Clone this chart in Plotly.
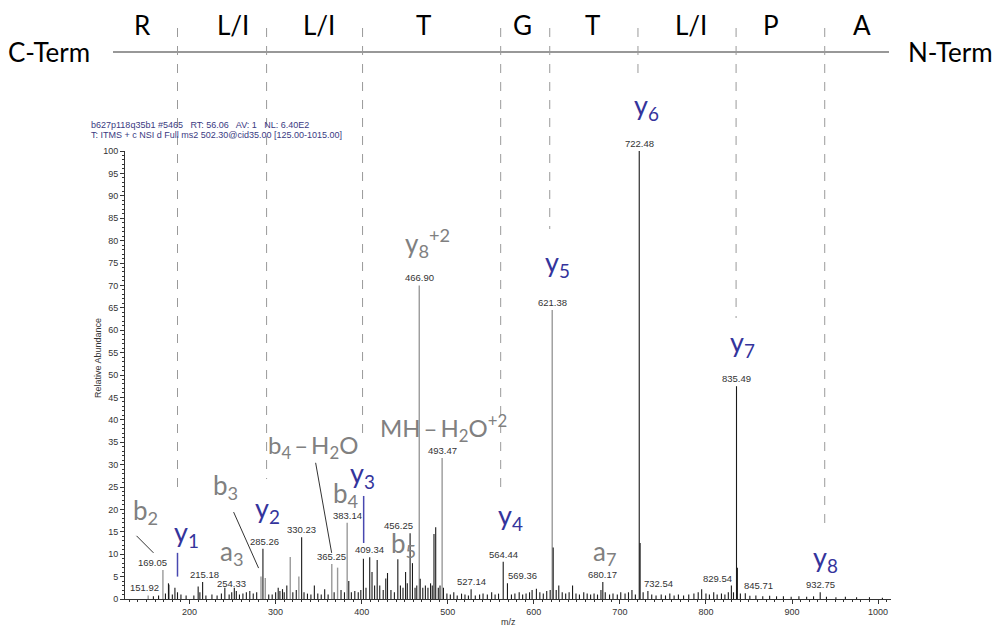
import plotly.graph_objects as go

# ---------------- data ----------------
# dark sticks (m/z, relative abundance)
dark_mz = [158, 164, 172, 175.5, 180, 183, 186, 190, 196,
           205, 210, 212, 215.18, 219, 226, 232, 237, 241, 246, 249, 252, 254.33, 258, 262, 266, 270, 274, 278,
           285.26, 292, 296,
           300, 303, 305, 308, 310, 313, 320, 324, 330.23, 333, 337, 341, 345, 349, 353, 357, 361,
           368, 376, 380, 385, 388, 392, 396, 399, 402, 405, 409.34, 412, 415, 418, 421, 425, 428, 430, 434,
           438, 442, 445, 448, 451, 453, 456.25, 459, 462, 464,
           468, 471, 474, 477, 480, 482, 484, 486, 489, 491, 495, 499, 503, 507, 511, 516, 520, 524, 527.14,
           532, 537, 541, 546, 551, 555, 559,
           564.44, 569.36, 574, 578, 583, 587, 591, 595, 598, 603, 607, 611, 615, 619, 622.5, 626, 629, 633,
           637, 641, 645, 649, 653, 658, 662, 666, 670, 674, 678, 680.17, 683, 688, 692, 697, 701, 706, 710,
           714, 718,
           722.48, 723.5, 727, 732.54, 737, 742, 748, 753, 758, 763, 768, 774, 780, 786, 791, 795, 800, 804,
           809, 813, 818, 822, 826, 829.54, 832, 835.49, 836.5, 840, 845.71, 851, 858, 866, 874, 882, 890,
           899, 908, 917, 925, 932.75, 940, 951, 962, 975, 990, 1005]
dark_int = [0.6, 0.8, 1.2, 3.5, 1.0, 2.5, 1.5, 1.0, 0.8,
            0.8, 2.8, 1.5, 3.8, 0.8, 1.0, 0.8, 1.2, 2.5, 1.0, 1.5, 2.5, 1.8, 1.0, 1.2, 1.5, 1.8, 1.2, 1.5,
            11.2, 1.0, 1.0,
            1.5, 2.5, 1.8, 2.2, 1.5, 3.0, 1.5, 2.0, 13.8, 1.5, 1.2, 1.0, 3.0, 1.2, 1.0, 2.2, 1.0,
            1.5, 2.0, 1.5, 4.0, 1.5, 1.8, 1.5, 2.0, 9.0, 2.5, 9.3, 6.0, 3.0, 8.7, 3.0, 2.0, 4.6, 5.8, 2.0,
            1.5, 8.9, 3.0, 2.5, 6.0, 3.5, 14.7, 8.0, 2.5, 3.0,
            4.5, 2.5, 3.0, 2.5, 3.5, 3.0, 14.5, 16.0, 2.5, 3.0, 2.5, 1.2, 1.0, 1.5, 0.8, 1.2, 1.0, 0.8, 2.2,
            0.8, 1.0, 1.2, 1.0, 1.5, 1.0, 1.2,
            8.3, 3.5, 1.0, 1.2, 1.5, 1.0, 1.2, 1.5, 2.0, 2.3, 1.5, 1.2, 1.8, 2.0, 11.5, 2.0, 3.0, 1.5,
            1.2, 1.5, 3.0, 1.2, 1.0, 1.5, 1.2, 1.0, 1.2, 1.0, 2.0, 3.8, 1.5, 1.0, 1.2, 1.0, 1.5, 1.2, 1.5,
            2.0, 1.0,
            100.0, 12.5, 1.5, 1.8, 1.0, 0.8, 1.0, 0.8, 1.2, 0.8, 1.0, 0.8, 1.0, 1.2, 1.5, 2.2, 1.2, 1.0,
            1.5, 1.0, 1.2, 1.0, 1.5, 3.0, 1.5, 47.5, 7.0, 1.2, 1.3, 0.7, 0.8, 0.6, 0.7, 0.6, 0.6,
            0.5, 0.6, 0.5, 0.6, 1.5, 0.5, 0.4, 0.5, 0.4, 0.4, 0.3]

# lighter grey sticks
grey_mz = [151.92, 169.05, 176.5, 283, 288, 317, 327, 365.25, 372, 383.14, 466.90, 493.47, 621.38]
grey_int = [0.8, 6.5, 3.2, 5.0, 4.7, 9.4, 5.0, 7.8, 7.0, 17.0, 70.0, 31.5, 64.5]

# peaks carrying an m/z label
labeled_mz = [151.92, 169.05, 215.18, 254.33, 285.26, 330.23, 365.25, 383.14, 409.34, 456.25,
              466.90, 493.47, 527.14, 564.44, 569.36, 621.38, 680.17, 722.48, 732.54, 829.54,
              835.49, 845.71, 932.75]

# fragment ion annotations
blue_ions = ["y<sub>1</sub>", "y<sub>2</sub>", "y<sub>3</sub>", "y<sub>4</sub>",
             "y<sub>5</sub>", "y<sub>6</sub>", "y<sub>7</sub>", "y<sub>8</sub>"]
grey_ions = ["b<sub>2</sub>", "b<sub>3</sub>", "a<sub>3</sub>", "b<sub>4</sub>\u2009–\u2009H<sub>2</sub>O",
             "b<sub>4</sub>", "b<sub>5</sub>", "y<sub>8</sub><sup>+2</sup>",
             "MH\u2009–\u2009H<sub>2</sub>O<sup>+2</sup>", "a<sub>7</sub>"]

residues = ["R", "L/I", "L/I", "T", "G", "T", "L/I", "P", "A"]

info_lines = ["b627p118q35b1 #5465   RT: 56.06   AV: 1   NL: 6.40E2",
              "T: ITMS + c NSI d Full ms2 502.30@cid35.00 [125.00-1015.00]"]

# ---------------- layout helpers ----------------
XMIN, XMAX = 125, 1015
W, H = 994, 628
ML, MR, MT, MB = 125, 103, 151, 29

# label centres given in page pixels
blue_px = [(186, 537), (267, 513), (362, 478), (510, 520), (557, 267), (646, 111), (742, 347), (825, 562)]
grey_px = [(145, 515), (225, 490), (232, 556), (313, 450), (346, 498), (403, 548), (427, 247),
           (443, 432), (605, 556)]
grey_size = [26, 26, 26, 24, 26, 26, 26, 24, 26]
label_xshift = {151.92: -4, 169.05: -10, 215.18: 2, 254.33: -5, 285.26: 2, 456.25: -12,
                569.36: 15, 732.54: 11, 829.54: -14, 845.71: 13}
residue_px = [142, 233, 319, 423, 522, 592, 691, 771, 862]
cleavage_x = [186, 289.5, 401, 561.5, 618.5, 721, 835, 938]
cleavage_end_px = [495, 479, 440, 488, 229, 77, 318, 528]


def paper_x(px):
    return (px - ML) / (W - ML - MR)


def paper_y(py):
    return (H - MB - py) / (H - MT - MB)


def sticks(xs, ys):
    sx, sy = [], []
    for x, y in zip(xs, ys):
        sx += [x, x, None]
        sy += [0, y, None]
    return sx, sy


fig = go.Figure()
gx, gy = sticks(grey_mz, grey_int)
fig.add_trace(go.Scatter(x=gx, y=gy, mode="lines", line=dict(color="#9a9a9a", width=1.4),
                         hoverinfo="skip", showlegend=False))
dx, dy = sticks(dark_mz, dark_int)
fig.add_trace(go.Scatter(x=dx, y=dy, mode="lines", line=dict(color="#1a1a1a", width=1.1),
                         hoverinfo="skip", showlegend=False))

all_int = dict(zip(dark_mz, dark_int))
all_int.update(dict(zip(grey_mz, grey_int)))

ann = []
lab_font = dict(family="Liberation Sans, Arial", size=9.5, color="#333333")
for m in labeled_mz:
    ann.append(dict(x=m, y=all_int[m], xref="x", yref="y", text=f"{m:.2f}", showarrow=False,
                    yanchor="bottom", xanchor="center", xshift=label_xshift.get(m, 0), yshift=0,
                    font=lab_font))

ion_font = "Lato, Open Sans, sans-serif"


def paper_ann(text, px, py, font, **kw):
    d = dict(x=paper_x(px), y=paper_y(py), xref="paper", yref="paper", text=text, showarrow=False,
             xanchor="center", yanchor="middle", font=font)
    d.update(kw)
    return d


for t, (px, py) in zip(blue_ions, blue_px):
    ann.append(paper_ann(t, px, py - 4, dict(family=ion_font, size=27, color="#34349c")))
for t, (px, py), s in zip(grey_ions, grey_px, grey_size):
    ann.append(paper_ann(t, px, py - 4, dict(family=ion_font, size=s, color="#808080")))

# header
hdr_font = dict(family=ion_font, size=26, color="#000000")
for r, px in zip(residues, residue_px):
    ann.append(paper_ann(r, px, 25, hdr_font))
ann.append(paper_ann("C-Term", 49, 52, hdr_font))
ann.append(paper_ann("N-Term", 950, 52, hdr_font))

# info text
for i, line in enumerate(info_lines):
    ann.append(paper_ann(line, 89, 125 + 10 * i,
                         dict(family="Liberation Sans, Arial", size=9, color="#3a3a82"), xanchor="left"))

# axis titles
ax_font = dict(family="Liberation Sans, Arial", size=9, color="#333333")
ann.append(paper_ann("Relative Abundance", 98, 358, ax_font, textangle=-90))
ann.append(paper_ann("m/z", 508, 622, ax_font))

shapes = []
# terminus line
shapes.append(dict(type="line", xref="paper", yref="paper", x0=paper_x(113), x1=paper_x(889),
                   y0=paper_y(52), y1=paper_y(52), line=dict(color="#333333", width=1.2)))
# cleavage dashed lines
for x, e in zip(cleavage_x, cleavage_end_px):
    shapes.append(dict(type="line", xref="x", yref="paper", x0=x, x1=x, y0=paper_y(28), y1=paper_y(e),
                       line=dict(color="#9a9a9a", width=1, dash="dash")))
# ion marker lines
for x, y0, y1 in [(186, 5.0, 10.3), (402.3, 12.5, 23.0)]:
    shapes.append(dict(type="line", xref="x", yref="y", x0=x, x1=x, y0=y0, y1=y1,
                       line=dict(color="#4848b0", width=1.5)))
# leader lines
for x0, y0, x1, y1 in [(138.4, 14.1, 158.1, 10.3), (251.2, 19.4, 280.2, 6.9), (346.5, 30.4, 365.1, 10.3)]:
    shapes.append(dict(type="line", xref="x", yref="y", x0=x0, y0=y0, x1=x1, y1=y1,
                       line=dict(color="#333333", width=1)))

tick_font = dict(family="Liberation Sans, Arial", size=9, color="#333333")
fig.update_layout(
    template="none",
    width=W, height=H, autosize=False,
    margin=dict(l=ML, r=MR, t=MT, b=MB, pad=0),
    paper_bgcolor="white", plot_bgcolor="white",
    showlegend=False,
    annotations=ann, shapes=shapes,
    xaxis=dict(range=[XMIN, XMAX], showgrid=False, zeroline=False, showline=True, linecolor="#333333",
               linewidth=1, ticks="outside", ticklen=4, tickcolor="#333333",
               tickvals=list(range(200, 1001, 100)),
               tickfont=tick_font, automargin=False,
               minor=dict(dtick=10, tick0=0, ticks="outside", ticklen=2, tickcolor="#333333")),
    yaxis=dict(range=[0, 100], showgrid=False, zeroline=False, showline=True, linecolor="#333333",
               linewidth=1, ticks="outside", ticklen=4, tickcolor="#333333", dtick=5, tick0=0,
               tickfont=tick_font, automargin=False,
               minor=dict(dtick=1, tick0=0, ticks="outside", ticklen=2, tickcolor="#333333")),
)

fig.write_html("out.html", config={"displayModeBar": False})
